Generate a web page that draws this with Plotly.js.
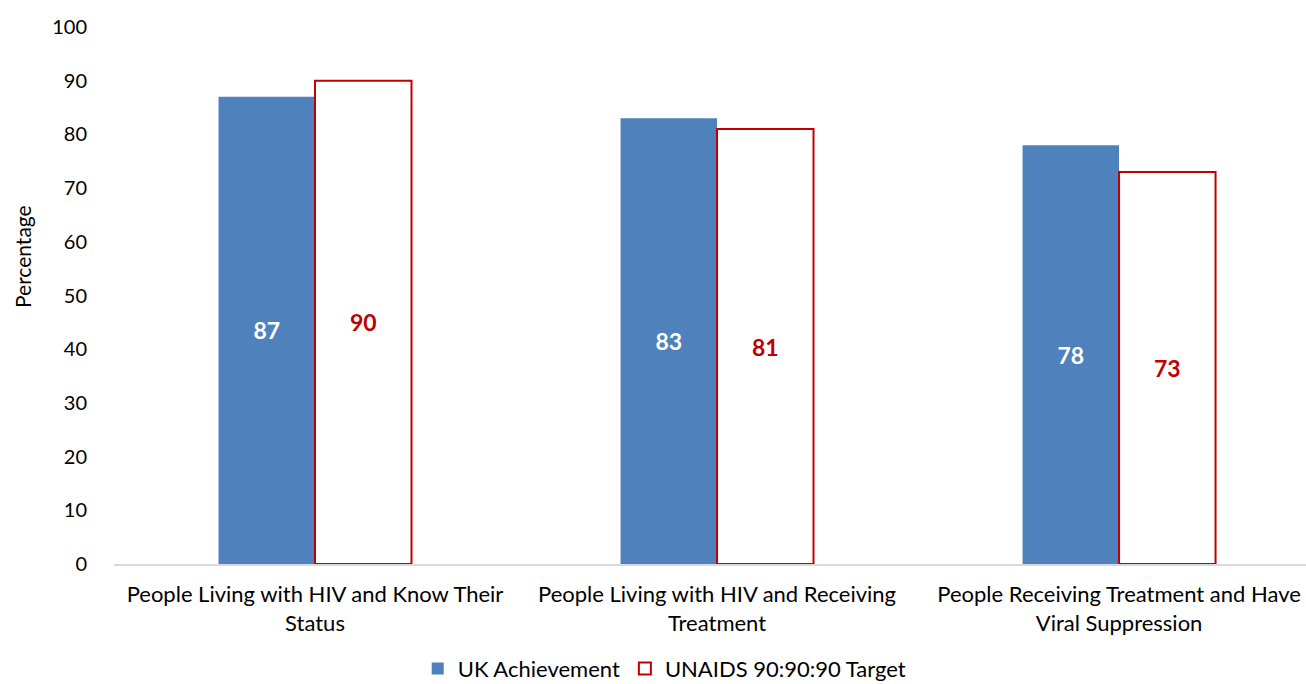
<!DOCTYPE html>
<html>
<head>
<meta charset="utf-8">
<script src="https://cdn.plot.ly/plotly-3.0.1.min.js"></script>
<style>html,body{margin:0;padding:0;background:#fff;}#chart{width:1306px;height:684px;}</style>
</head>
<body>
<div id="chart"></div>
<script>
var categories = ["People Living with HIV and Know Their<br>Status", "People Living with HIV and Receiving<br>Treatment", "People Receiving Treatment and Have<br>Viral Suppression"];
var ukAchievement = [87, 83, 78];
var unaidsTarget = [90, 81, 73];
var seriesNames = ["UK Achievement", "UNAIDS 90:90:90 Target"];
var yTicks = [0, 10, 20, 30, 40, 50, 60, 70, 80, 90, 100];
var yTitle = "Percentage";

var FONT = "Lato, 'Open Sans', sans-serif";

var traces = [
  {
    type: 'bar', name: seriesNames[0], x: [0,1,2], y: ukAchievement,
    marker: {color: '#4F81BD', line: {width: 0}},
    text: ukAchievement.map(String), textposition: 'inside', insidetextanchor: 'middle',
    textangle: 0,
    textfont: {family: FONT, size: 23, color: '#FFFFFF', weight: 'bold'},
    hoverinfo: 'skip'
  },
  {
    type: 'bar', name: seriesNames[1], x: [0,1,2], y: unaidsTarget,
    marker: {color: '#FFFFFF', line: {width: 2, color: '#C00000'}},
    text: unaidsTarget.map(String), textposition: 'inside', insidetextanchor: 'middle',
    textangle: 0,
    textfont: {family: FONT, size: 23, color: '#C00000', weight: 'bold'},
    hoverinfo: 'skip'
  }
];

var layout = {
  width: 1306, height: 684,
  margin: {l: 114, r: 0, t: 27, b: 120, autoexpand: false},
  paper_bgcolor: '#FFFFFF', plot_bgcolor: '#FFFFFF',
  font: {family: FONT, size: 18, color: '#000000'},
  barmode: 'group', bargap: 0.52, bargroupgap: 0,
  showlegend: true,
  legend: {orientation: 'h', x: 0.462, xanchor: 'center', y: -0.195, yanchor: 'middle',
           font: {family: FONT, size: 22, color: '#000'}, traceorder: 'normal', itemwidth: 30},
  xaxis: {
    range: [-0.5, 2.465], tickmode: 'array', tickvals: [0,1,2], ticktext: categories,
    showgrid: false, zeroline: false, showline: true, linecolor: '#D9D9D9', linewidth: 1.5,
    ticks: 'outside', ticklen: 10, tickcolor: 'rgba(0,0,0,0)', automargin: false,
    tickfont: {family: FONT, size: 22, color: '#000'}, fixedrange: true
  },
  yaxis: {
    range: [0, 100], tickmode: 'array', tickvals: yTicks, ticktext: yTicks.map(String),
    showgrid: false, zeroline: false, showline: false, automargin: false,
    ticks: 'outside', ticklen: 22, tickcolor: 'rgba(0,0,0,0)',
    tickfont: {family: FONT, size: 20, color: '#000'},
    fixedrange: true
  },
  annotations: [
    {text: yTitle, xref: 'paper', yref: 'paper', x: -92/1192, y: (564-257)/537,
     xanchor: 'center', yanchor: 'middle', textangle: -90, showarrow: false,
     font: {family: FONT, size: 21, color: '#000'}}
  ]
};

Plotly.newPlot('chart', traces, layout, {displayModeBar: false, staticPlot: true});
</script>
</body>
</html>
